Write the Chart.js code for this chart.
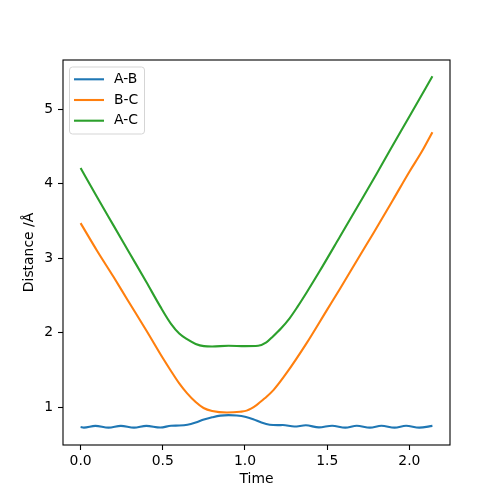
<!DOCTYPE html>
<html>
<head>
<meta charset="utf-8">
<script src="https://cdn.jsdelivr.net/npm/chart.js@4"></script>
<style>
  html, body { margin: 0; padding: 0; background: #fff; }
  #wrap { width: 500px; height: 500px; }
</style>
</head>
<body>
<div id="wrap"><canvas id="distanceChart" width="500" height="500"></canvas></div>
<script>
// Series data
const labels = ['A-B', 'B-C', 'A-C'];
const colors = ['#1f77b4', '#ff7f0e', '#2ca02c'];

const timeAB = [0.00, 0.02, 0.09, 0.17, 0.245, 0.325, 0.40, 0.485, 0.55, 0.60, 0.65, 0.70, 0.75, 0.80, 0.85, 0.90, 0.95, 1.00, 1.05, 1.10, 1.15, 1.20, 1.23, 1.30, 1.37, 1.45, 1.53, 1.61, 1.68, 1.76, 1.83, 1.91, 1.98, 2.06, 2.14];
const distAB = [0.735, 0.727, 0.750, 0.727, 0.750, 0.727, 0.750, 0.728, 0.752, 0.755, 0.765, 0.795, 0.835, 0.865, 0.888, 0.895, 0.890, 0.874, 0.840, 0.795, 0.765, 0.760, 0.762, 0.742, 0.758, 0.730, 0.753, 0.727, 0.753, 0.727, 0.753, 0.727, 0.753, 0.727, 0.750];

const timeBC = [0.00, 0.10, 0.20, 0.283, 0.40, 0.50, 0.546, 0.60, 0.647, 0.70, 0.748, 0.80, 0.89, 0.97, 1.01, 1.07, 1.12, 1.173, 1.25, 1.375, 1.50, 1.578, 1.70, 1.78, 1.90, 2.00, 2.073, 2.14];
const distBC = [3.47, 3.10, 2.75, 2.45, 2.03, 1.66, 1.50, 1.32, 1.19, 1.07, 0.99, 0.95, 0.93, 0.94, 0.955, 1.03, 1.12, 1.23, 1.45, 1.86, 2.31, 2.59, 3.04, 3.33, 3.78, 4.16, 4.42, 4.69];

const timeAC = [0.00, 0.10, 0.20, 0.30, 0.40, 0.485, 0.55, 0.60, 0.65, 0.70, 0.75, 0.80, 0.90, 1.00, 1.08, 1.13, 1.17, 1.22, 1.27, 1.32, 1.375, 1.45, 1.578, 1.70, 1.80, 1.88, 2.00, 2.14];
const distAC = [4.21, 3.82, 3.44, 3.06, 2.68, 2.35, 2.12, 1.99, 1.91, 1.85, 1.82, 1.815, 1.825, 1.82, 1.825, 1.87, 1.95, 2.06, 2.19, 2.35, 2.54, 2.81, 3.29, 3.75, 4.13, 4.44, 4.90, 5.44];

const xMin = -0.107, xMax = 2.247;
const yMin = 0.494, yMax = 5.658;

const FONT = 'DejaVu Sans';

function pairs(xs, ys) {
    return xs.map((x, i) => ({ x: x, y: ys[i] }));
}

// Box round the plot area and the legend in its upper left corner
const framePlugin = {
    id: 'frame',
    afterDraw(chart) {
        const ctx = chart.ctx;
        const a = chart.chartArea;
        ctx.save();
        ctx.strokeStyle = '#000';
        ctx.lineWidth = 1.1;
        ctx.strokeRect(a.left, a.top, a.right - a.left, a.bottom - a.top);

        // legend
        const bx = a.left + 6.5, by = a.top + 7, bw = 75, bh = 67, r = 3;
        ctx.beginPath();
        ctx.moveTo(bx + r, by);
        ctx.arcTo(bx + bw, by, bx + bw, by + bh, r);
        ctx.arcTo(bx + bw, by + bh, bx, by + bh, r);
        ctx.arcTo(bx, by + bh, bx, by, r);
        ctx.arcTo(bx, by, bx + bw, by, r);
        ctx.closePath();
        ctx.fillStyle = 'rgba(255,255,255,0.8)';
        ctx.fill();
        ctx.strokeStyle = '#d5d5d5';
        ctx.lineWidth = 1;
        ctx.stroke();

        ctx.font = '13.9px "' + FONT + '"';
        ctx.textBaseline = 'middle';
        ctx.textAlign = 'left';
        chart.data.datasets.forEach((ds, i) => {
            const y = a.top + 19.3 + i * 20.7;
            ctx.strokeStyle = ds.borderColor;
            ctx.lineWidth = 2.1;
            ctx.beginPath();
            ctx.moveTo(a.left + 11, y);
            ctx.lineTo(a.left + 41, y);
            ctx.stroke();
            ctx.fillStyle = '#000';
            ctx.fillText(ds.label, a.left + 51, y);
        });
        ctx.restore();
    }
};

new Chart(document.getElementById('distanceChart'), {
    type: 'line',
    data: {
        datasets: [
            { label: labels[0], data: pairs(timeAB, distAB), borderColor: colors[0] },
            { label: labels[1], data: pairs(timeBC, distBC), borderColor: colors[1] },
            { label: labels[2], data: pairs(timeAC, distAC), borderColor: colors[2] }
        ]
    },
    options: {
        responsive: false,
        animation: false,
        datasets: {
            line: {
                borderWidth: 2.1,
                pointRadius: 0,
                fill: false,
                cubicInterpolationMode: 'monotone'
            }
        },
        layout: {
            padding: { top: 60, right: 50, left: 0, bottom: 0 }
        },
        plugins: {
            legend: { display: false },
            tooltip: { enabled: false }
        },
        scales: {
            x: {
                type: 'linear',
                min: xMin,
                max: xMax,
                afterFit(scale) { scale.height = 55; },
                border: { display: false },
                grid: {
                    drawOnChartArea: false,
                    drawTicks: true,
                    tickLength: 5,
                    tickColor: '#000',
                    tickWidth: 1.1
                },
                ticks: {
                    stepSize: 0.5,
                    includeBounds: false,
                    padding: 3,
                    maxRotation: 0,
                    color: '#000',
                    font: { family: FONT, size: 13.9 },
                    callback: v => v.toFixed(1)
                },
                title: {
                    display: true,
                    text: 'Time',
                    color: '#000',
                    font: { family: FONT, size: 13.9 },
                    padding: { top: 0, bottom: 12 }
                }
            },
            y: {
                min: yMin,
                max: yMax,
                afterFit(scale) { scale.width = 63; },
                border: { display: false },
                grid: {
                    drawOnChartArea: false,
                    drawTicks: true,
                    tickLength: 5,
                    tickColor: '#000',
                    tickWidth: 1.1
                },
                ticks: {
                    stepSize: 1,
                    includeBounds: false,
                    padding: 5,
                    color: '#000',
                    font: { family: FONT, size: 13.9 },
                    callback: v => String(v)
                },
                title: {
                    display: true,
                    text: 'Distance /Å',
                    color: '#000',
                    font: { family: FONT, size: 13.9 },
                    padding: { top: 21, bottom: 0 }
                }
            }
        }
    },
    plugins: [framePlugin]
});
</script>
</body>
</html>
